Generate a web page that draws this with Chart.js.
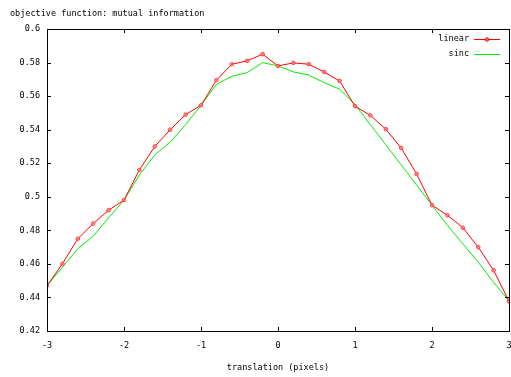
<!DOCTYPE html>
<html>
<head>
<meta charset="utf-8">
<script src="https://cdn.jsdelivr.net/npm/chart.js@4"></script>
<style>
  html, body { margin: 0; padding: 0; background: #fff; }
  #wrap { width: 511px; height: 377px; }
</style>
</head>
<body>
<div id="wrap"><canvas id="chart" width="511" height="377"></canvas></div>
<script>
// translation in pixels, step 0.2
const shifts = [-3.0, -2.8, -2.6, -2.4, -2.2, -2.0, -1.8, -1.6, -1.4, -1.2, -1.0,
                -0.8, -0.6, -0.4, -0.2, 0.0, 0.2, 0.4, 0.6, 0.8, 1.0,
                1.2, 1.4, 1.6, 1.8, 2.0, 2.2, 2.4, 2.6, 2.8, 3.0];

const linearMI = [0.447, 0.460, 0.475, 0.484, 0.492, 0.498, 0.516, 0.530, 0.540, 0.549, 0.5545,
                  0.5695, 0.579, 0.581, 0.585, 0.578, 0.5798, 0.579, 0.5744, 0.569, 0.554,
                  0.5485, 0.5403, 0.5291, 0.5136, 0.495, 0.489, 0.4816, 0.470, 0.4562, 0.4377];

const sincMI = [0.447, 0.458, 0.469, 0.4765, 0.4875, 0.498, 0.513, 0.525, 0.5325, 0.543, 0.5545,
                0.567, 0.5718, 0.574, 0.580, 0.578, 0.5744, 0.5726, 0.568, 0.5642, 0.5549,
                0.543, 0.531, 0.519, 0.507, 0.495, 0.483, 0.472, 0.461, 0.449, 0.438];

const xTicks = [-3, -2, -1, 0, 1, 2, 3];
const yTicks = [0.42, 0.44, 0.46, 0.48, 0.5, 0.52, 0.54, 0.56, 0.58, 0.6];

const FONT = '"DejaVu Sans Mono", "Liberation Mono", monospace';

// frame, inward ticks on all four sides, title and legend (gnuplot style)
const gnuplotFrame = {
    id: 'gnuplotFrame',
    afterDraw(chart) {
        const ctx = chart.ctx;
        const a = chart.chartArea;
        const xs = chart.scales.x, ys = chart.scales.y;
        const tl = 4;
        ctx.save();
        ctx.strokeStyle = '#000';
        ctx.lineWidth = 1;
        ctx.beginPath();
        xTicks.forEach(v => {
            const px = Math.round(xs.getPixelForValue(v)) + 0.5;
            ctx.moveTo(px, a.bottom); ctx.lineTo(px, a.bottom - tl);
            ctx.moveTo(px, a.top); ctx.lineTo(px, a.top + tl);
        });
        yTicks.forEach(v => {
            const py = Math.round(ys.getPixelForValue(v)) + 0.5;
            ctx.moveTo(a.left, py); ctx.lineTo(a.left + tl, py);
            ctx.moveTo(a.right, py); ctx.lineTo(a.right - tl, py);
        });
        ctx.stroke();
        ctx.strokeRect(Math.round(a.left) + 0.5, Math.round(a.top) + 0.5,
                       Math.round(a.right - a.left), Math.round(a.bottom - a.top));

        // title
        ctx.fillStyle = '#000';
        ctx.font = '8.5px ' + FONT;
        ctx.textBaseline = 'middle';
        ctx.textAlign = 'left';
        ctx.fillText('objective function: mutual information', 10, 14);

        // legend inside plot, text then sample
        const rows = [39, 54];
        chart.data.datasets.forEach((ds, i) => {
            const y = rows[i];
            ctx.textAlign = 'right';
            ctx.fillStyle = '#000';
            ctx.fillText(ds.label, 469, y);
            ctx.strokeStyle = ds.borderColor;
            ctx.lineWidth = 1;
            ctx.beginPath();
            ctx.moveTo(474, y + 0.5); ctx.lineTo(500, y + 0.5);
            ctx.stroke();
            if (ds.pointRadius > 0) {
                ctx.fillStyle = ds.pointBackgroundColor;
                ctx.beginPath();
                ctx.arc(487, y + 0.5, ds.pointRadius, 0, Math.PI * 2);
                ctx.fill();
                ctx.stroke();
            }
        });
        ctx.restore();
    }
};

new Chart(document.getElementById('chart').getContext('2d'), {
    type: 'line',
    data: {
        datasets: [{
            label: 'linear',
            data: shifts.map((x, i) => ({ x: x, y: linearMI[i] })),
            borderColor: '#ff0000',
            borderWidth: 1,
            pointRadius: 1.8,
            pointBorderWidth: 1,
            pointBackgroundColor: 'rgba(255, 130, 130, 0.8)',
            pointBorderColor: '#ff4040',
            tension: 0
        }, {
            label: 'sinc',
            data: shifts.map((x, i) => ({ x: x, y: sincMI[i] })),
            borderColor: '#00ee00',
            borderWidth: 1,
            pointRadius: 0,
            tension: 0
        }]
    },
    options: {
        responsive: false,
        animation: false,
        layout: { autoPadding: false, padding: { top: 29, right: 2, left: 0, bottom: 0 } },
        plugins: {
            legend: { display: false },
            tooltip: { enabled: false }
        },
        scales: {
            x: {
                type: 'linear',
                min: -3,
                max: 3,
                afterBuildTicks: s => { s.ticks = xTicks.map(v => ({ value: v })); },
                afterFit: s => { s.height = 46; s.paddingLeft = 0; s.paddingRight = 0; },
                grid: { display: false, drawTicks: false },
                border: { display: false },
                ticks: {
                    padding: 10,
                    color: '#000',
                    font: { family: FONT, size: 8.5 },
                    maxRotation: 0
                },
                title: {
                    display: true,
                    text: 'translation (pixels)',
                    color: '#000',
                    font: { family: FONT, size: 8.5 },
                    padding: { top: 0, bottom: 4 }
                }
            },
            y: {
                min: 0.42,
                max: 0.6,
                afterBuildTicks: s => { s.ticks = yTicks.map(v => ({ value: v })); },
                afterFit: s => { s.width = 47; s.paddingTop = 0; s.paddingBottom = 0; },
                grid: { display: false, drawTicks: false },
                border: { display: false },
                ticks: {
                    padding: 7,
                    color: '#000',
                    font: { family: FONT, size: 8.5 },
                    callback: v => String(+v.toFixed(2))
                }
            }
        }
    },
    plugins: [gnuplotFrame]
});
</script>
</body>
</html>
